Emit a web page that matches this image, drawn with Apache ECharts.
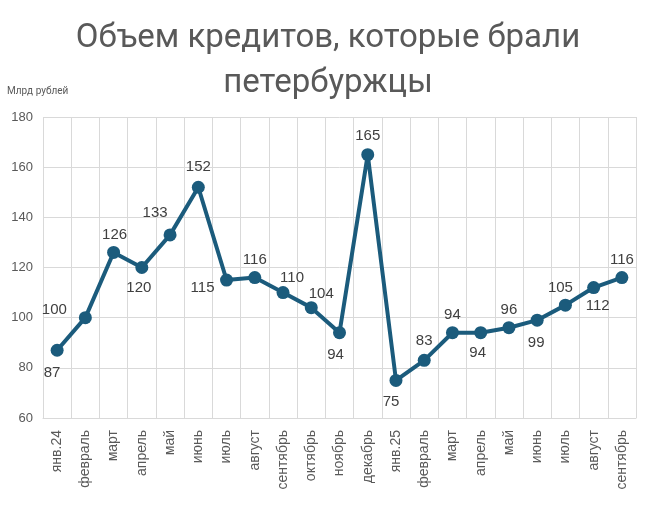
<!DOCTYPE html>
<html><head><meta charset="utf-8">
<script src="https://cdn.jsdelivr.net/npm/echarts@6/dist/echarts.min.js"></script>
<style>html,body{margin:0;padding:0;background:#fff}#c{width:656px;height:515px}</style>
</head><body><div id="c"></div>
<script>
const categories = ["янв.24","февраль","март","апрель","май","июнь","июль","август","сентябрь","октябрь","ноябрь","декабрь","янв.25","февраль","март","апрель","май","июнь","июль","август","сентябрь"];
const values = [87,100,126,120,133,152,115,116,110,104,94,165,75,83,94,94,96,99,105,112,116];
const yTicks = {min:60, max:180, interval:20};
const titleLines = "Объем кредитов, которые брали\nпетербуржцы";
const unitLabel = "Млрд рублей";
// label placement per point: [dx, dy]
const labelOffsets = [[-5,23],[-31,-8],[1,-18],[-3,20],[-15,-22],[0,-20],[-24,8],[0,-18],[9,-15],[10,-14],[-4,22],[0,-19],[-5,21],[0,-19],[0,-18],[-3,20],[0,-18],[-1,23],[-5,-17],[4,18],[0,-18]];

const chart = echarts.init(document.getElementById('c'), null, {renderer:'canvas'});
chart.setOption({
  animation:false,
  backgroundColor:'#fff',
  title:{text:titleLines,left:'center',top:11,textStyle:{fontFamily:'Roboto',fontWeight:'normal',fontSize:33,color:'#595959',lineHeight:45}},
  graphic:[{type:'text',left:7,top:86,style:{text:unitLabel,fontSize:10,fill:'#595959',fontFamily:'Roboto'}}],
  grid:{left:43,right:20,top:117,bottom:97},
  xAxis:{type:'category',data:categories,boundaryGap:true,
    axisLine:{lineStyle:{color:'#d9d9d9'}},axisTick:{show:false},
    splitLine:{show:true,interval:0,lineStyle:{color:'#d9d9d9'}},
    axisLabel:{interval:0,rotate:90,color:'#595959',fontSize:14,fontFamily:'Liberation Sans',margin:12}},
  yAxis:{type:'value',min:yTicks.min,max:yTicks.max,interval:yTicks.interval,
    axisLine:{show:false},axisTick:{show:false},
    splitLine:{lineStyle:{color:'#d9d9d9'}},
    axisLabel:{color:'#595959',fontSize:13,fontFamily:'Liberation Sans',margin:10}},
  series:[{type:'line',data:values.map((v,i)=>({value:v,label:{offset:labelOffsets[i]}})),
    symbol:'circle',symbolSize:13,
    lineStyle:{color:'#1b5b7c',width:4},itemStyle:{color:'#1b5b7c'},
    label:{show:true,position:'inside',color:'#404040',fontSize:15,fontFamily:'Liberation Sans'}}]
});
</script></body></html>
